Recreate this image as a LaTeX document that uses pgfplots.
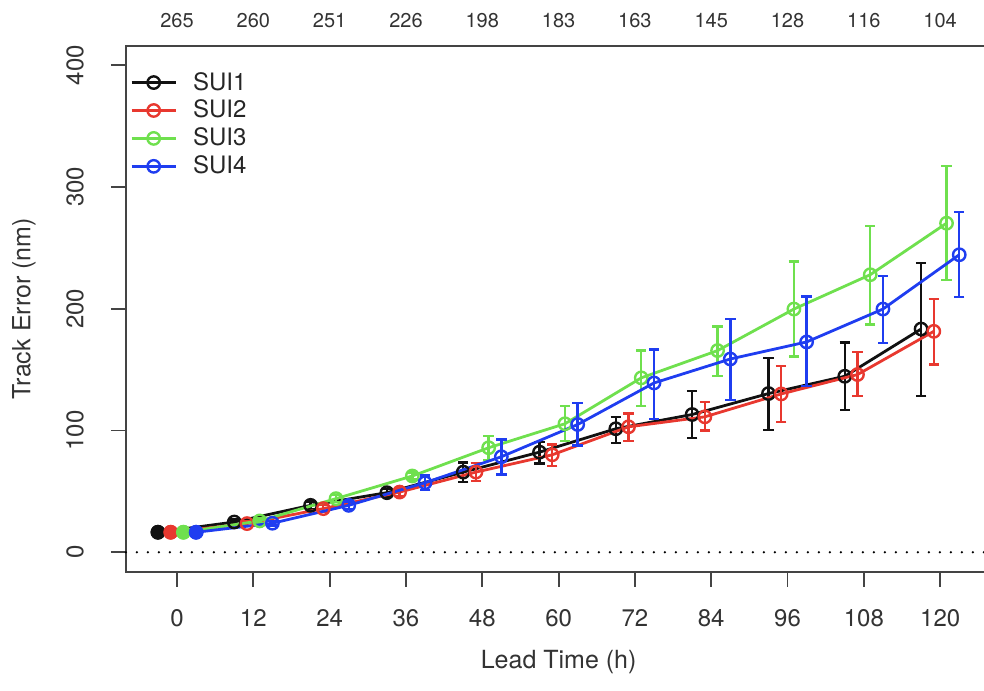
\documentclass[border=0pt]{standalone}
\usepackage{fontspec}
\setmainfont{TeX Gyre Heros}
\usepackage{pgfplots}
\pgfplotsset{compat=1.18}
\definecolor{suione}{HTML}{111111}
\definecolor{suitwo}{HTML}{E8382F}
\definecolor{suithree}{HTML}{6FE04E}
\definecolor{suifour}{HTML}{1F3DF0}
\definecolor{axgray}{HTML}{444444}

% x = lead time offset by -3/-1/+1/+3 h, y = mean error, ep/em = bar above/below
\pgfplotstableread{
x y ep em
-3 16.4 0 0
9 24.8 2 2
21 38.5 3 3
33 48.9 3 3
45 65.8 8 8
57 82.2 8.5 9.5
69 101.4 9.8 11.5
81 113.1 19.1 19.1
93 130.3 29.3 30
105 144.5 27.9 27.9
117 183.3 54.1 55.2
}\suione
\pgfplotstableread{
x y ep em
-1 16.4 0 0
11 23.5 2 2
23 35.8 3 3
35 49.4 3 3
47 65.8 7.5 7.5
59 80 8.5 9.3
71 103 11 11.8
83 111.2 12 11.2
95 130 22.7 23.2
107 145.9 18.3 17.8
119 181.4 26.8 27.3
}\suitwo
\pgfplotstableread{
x y ep em
1 16.4 0 0
13 25.7 2 2
25 44 3 3
37 62.6 3 3
49 85.8 9.5 10.1
61 105.5 14.5 14.3
73 143.2 22.6 23.2
85 165.6 19.9 21.1
97 199.7 39.1 38.8
109 227.9 40.1 41
121 270.2 47 46.4
}\suithree
\pgfplotstableread{
x y ep em
3 16.4 0 0
15 23.8 2 2
27 38.5 3 3
39 57.1 6 6
51 78.4 14.2 14.5
63 104.9 17.8 17.2
75 139 27.4 29.4
87 158.7 32.9 33.9
99 172.7 37.3 36.4
111 199.7 27.3 27.8
123 244.3 35 34.7
}\suifour

\pgfplotsset{
  series/.style={
    color=#1, line width=1.4pt, mark=o,
    mark options={solid, fill=white, line width=1.2pt, mark size=3.1pt},
    error bars/.cd, y dir=both, y explicit,
    error bar style={line width=1.2pt},
    error mark options={rotate=90, mark size=2.6pt, line width=1.2pt},
  },
  firstdot/.style={only marks, mark=*, color=#1, mark size=3.5pt, forget plot},
}
\newcommand\nfont{\fontsize{10}{12}\selectfont}

\begin{document}
\begin{tikzpicture}
\begin{axis}[
  scale only axis,
  width=432.7pt, height=263pt,
  xmin=-8.04, xmax=128.04, ymin=-16, ymax=416,
  xtick={0,12,...,120}, ytick={0,100,...,400},
  tick align=outside, major tick length=7.5pt,
  axis line style={axgray, line width=0.9pt},
  tick style={axgray, line width=0.9pt},
  xtick pos=bottom, ytick pos=left,
  /pgf/number format/assume math mode=true,
  tick label style={font=\fontsize{12}{14}\selectfont, black!80},
  xticklabel style={yshift=-8pt},
  yticklabel style={rotate=90, anchor=south, yshift=10pt},
  label style={font=\fontsize{12.5}{15}\selectfont, black!80},
  xlabel={Lead Time (h)},
  ylabel={Track Error (nm)},
  x label style={at={(axis description cs:0.5,0)}, anchor=center, yshift=-45pt},
  y label style={at={(axis description cs:0,0.5)}, anchor=center, yshift=51pt},
  clip=false,
  legend style={at={(axis description cs:0,1)}, anchor=north west,
    xshift=-1pt, yshift=-9pt, draw=none, fill=none,
    font=\fontsize{12}{14}\selectfont, text=black!85, row sep=-0.5pt,
    /tikz/every odd column/.append style={column sep=6pt}},
  legend cell align=left,
  legend image code/.code={
    \draw[mark repeat=2, mark phase=2, #1] plot coordinates {(0pt,0pt) (11pt,0pt) (22pt,0pt)};
  },
]
\addplot[black, line width=1.3pt, dash pattern=on 0pt off 5.5pt, line cap=round, forget plot]
  coordinates {(-8.04,0) (128.04,0)};

\addplot[series=suione] table[x=x, y=y, y error plus=ep, y error minus=em] {\suione};
\addlegendentry{SUI1}
\addplot[series=suitwo] table[x=x, y=y, y error plus=ep, y error minus=em] {\suitwo};
\addlegendentry{SUI2}
\addplot[series=suithree] table[x=x, y=y, y error plus=ep, y error minus=em] {\suithree};
\addlegendentry{SUI3}
\addplot[series=suifour] table[x=x, y=y, y error plus=ep, y error minus=em] {\suifour};
\addlegendentry{SUI4}

\addplot[firstdot=suione] coordinates {(-3,16.4)};
\addplot[firstdot=suitwo] coordinates {(-1,16.4)};
\addplot[firstdot=suithree] coordinates {(1,16.4)};
\addplot[firstdot=suifour] coordinates {(3,16.4)};

% sample sizes along the top
\node[font=\nfont, black!80] at (axis cs:0,437) {265};
\node[font=\nfont, black!80] at (axis cs:12,437) {260};
\node[font=\nfont, black!80] at (axis cs:24,437) {251};
\node[font=\nfont, black!80] at (axis cs:36,437) {226};
\node[font=\nfont, black!80] at (axis cs:48,437) {198};
\node[font=\nfont, black!80] at (axis cs:60,437) {183};
\node[font=\nfont, black!80] at (axis cs:72,437) {163};
\node[font=\nfont, black!80] at (axis cs:84,437) {145};
\node[font=\nfont, black!80] at (axis cs:96,437) {128};
\node[font=\nfont, black!80] at (axis cs:108,437) {116};
\node[font=\nfont, black!80] at (axis cs:120,437) {104};
\end{axis}
\pgfresetboundingbox
\useasboundingbox ([shift={(-62.95pt,-59.15pt)}]current axis.south west) rectangle ++(492pt,345pt);
\end{tikzpicture}
\end{document}
